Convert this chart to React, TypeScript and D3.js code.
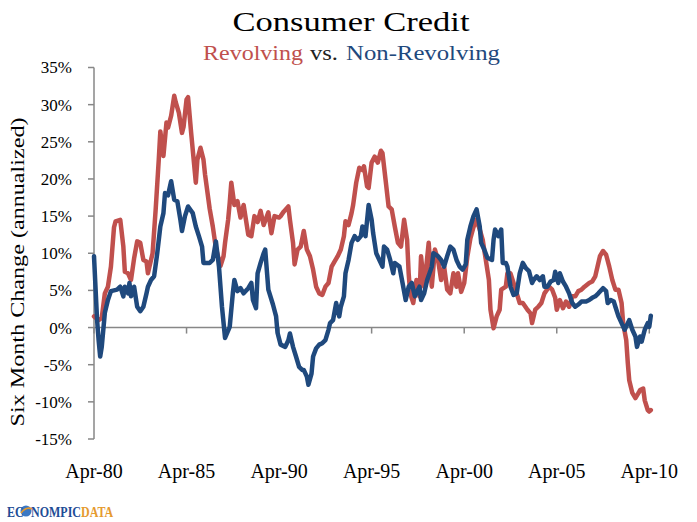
import React from "react";
import * as d3 from "d3";

// months counted from Apr-80, value = six month change (annualized, %)
const revMonths = [
  0, 3, 5, 7, 9, 11, 13, 14, 17, 19, 20, 22, 24, 26, 28, 30, 32, 34, 35, 38,
  40, 42, 43, 45, 47, 48, 50, 52, 53, 55, 57, 58, 60, 61, 63, 65, 66, 67, 69, 71,
  72, 75, 77, 79, 82, 84, 85, 87, 88, 89, 91, 93, 95, 97, 100, 102, 104, 106, 108, 110,
  113, 115, 117, 120, 121, 123, 126, 127, 129, 130, 132, 134, 136, 138, 140, 142, 144, 146, 148, 150,
  152, 154, 156, 158, 160, 162, 163, 165, 167, 168, 170, 172, 174, 175, 177, 178, 180, 182, 184, 186,
  187, 189, 191, 193, 195, 197, 199, 201, 203, 204, 205, 207, 209, 211, 212, 214, 215, 217, 219, 221,
  223, 225, 227, 229, 231, 233, 235, 236, 238, 240, 242, 244, 246, 248, 250, 252, 254, 256, 257, 259,
  261, 263, 264, 267, 268, 270, 272, 274, 276, 278, 281, 283, 284, 286, 288, 290, 292, 295, 297, 299,
  300, 302, 304, 306, 308, 310, 312, 314, 316, 318, 321, 323, 325, 327, 328, 330, 332, 334, 336, 338,
  340, 342, 343, 345, 346, 347, 349, 351, 353, 354, 356, 357, 359, 360, 361,
];
const revValues = [
  1.5, 1.0, 1.3, 4.6, 5.5, 8.2, 13.5, 14.3, 14.5, 10.9, 7.5, 7.3, 6.4, 9.3, 11.6, 11.4, 9.1, 8.9, 7.3, 10.0,
  15.9, 22.6, 26.4, 23.1, 27.6, 26.9, 28.5, 31.2, 30.3, 28.9, 26.2, 27.0, 30.7, 31.0, 26.2, 21.7, 19.5, 22.6, 24.2, 22.6,
  20.6, 16.0, 13.6, 10.7, 8.3, 9.6, 11.4, 14.5, 16.8, 19.5, 16.5, 17.0, 14.8, 16.5, 12.5, 12.3, 15.0, 14.2, 15.7, 13.8,
  15.5, 12.7, 15.0, 14.8, 15.0, 15.6, 16.3, 14.5, 11.4, 8.5, 10.5, 10.9, 13.0, 10.5, 9.6, 7.8, 5.5, 4.6, 4.4, 5.5,
  6.0, 8.2, 8.9, 9.6, 10.5, 12.3, 14.3, 13.8, 15.4, 16.5, 19.5, 21.5, 21.2, 21.7, 19.0, 18.8, 22.2, 23.0, 22.2, 23.8,
  23.5, 19.9, 16.3, 15.9, 13.6, 11.4, 10.9, 14.5, 11.8, 7.3, 4.6, 3.3, 6.4, 4.2, 9.6, 5.5, 7.3, 11.4, 5.5, 10.5,
  9.1, 6.4, 8.2, 5.1, 4.6, 7.3, 5.5, 7.3, 4.8, 6.0, 9.5, 12.0, 13.5, 14.5, 13.2, 11.8, 9.1, 6.4, 2.4, -0.1,
  1.5, 2.4, 5.1, 5.5, 7.3, 7.3, 6.0, 4.6, 3.3, 3.3, 2.4, 1.9, 0.6, 2.4, 2.8, 3.3, 4.6, 5.5, 5.1, 4.0,
  2.4, 3.7, 2.6, 3.5, 2.8, 4.2, 4.2, 4.9, 5.1, 5.5, 6.0, 6.2, 6.9, 8.7, 9.6, 10.3, 9.8, 8.2, 6.4, 5.1,
  5.1, 3.3, 0.6, -1.7, -4.8, -7.1, -8.8, -9.5, -8.8, -8.4, -8.2, -9.8, -11.1, -11.3, -11.1,
];

const nonRevMonths = [
  0, 2, 3, 4, 5, 7, 9, 11, 15, 17, 19, 20, 22, 23, 24, 26, 28, 30, 32, 34,
  35, 37, 39, 41, 43, 45, 46, 48, 50, 52, 54, 56, 57, 59, 61, 64, 66, 68, 70, 71,
  75, 77, 79, 81, 83, 85, 88, 90, 91, 93, 95, 97, 100, 102, 103, 105, 106, 108, 110, 111,
  113, 116, 118, 119, 121, 124, 126, 127, 129, 131, 133, 135, 136, 138, 139, 141, 142, 144, 146, 148,
  150, 152, 153, 155, 157, 159, 160, 162, 163, 165, 167, 169, 171, 173, 174, 176, 178, 180, 181, 183,
  185, 187, 188, 190, 192, 194, 195, 198, 200, 202, 204, 206, 208, 211, 212, 214, 216, 219, 220, 223,
  225, 227, 229, 231, 233, 235, 237, 239, 241, 242, 244, 246, 248, 250, 251, 253, 255, 258, 259, 260,
  262, 264, 265, 267, 268, 270, 272, 274, 276, 278, 280, 282, 284, 285, 287, 289, 291, 292, 294, 296,
  298, 299, 301, 302, 304, 306, 308, 310, 312, 314, 316, 319, 321, 323, 325, 327, 330, 332, 333, 335,
  337, 338, 340, 342, 344, 346, 347, 349, 351, 352, 354, 355, 357, 359, 360, 361,
];
const nonRevValues = [
  9.6, 1.0, -1.7, -3.9, -2.6, 2.0, 3.7, 4.9, 5.1, 5.5, 4.2, 5.5, 4.6, 6.0, 4.2, 5.5, 2.8, 2.2, 2.8, 4.6,
  5.5, 6.4, 6.9, 10.0, 13.6, 15.4, 18.1, 17.8, 19.7, 17.2, 17.0, 14.5, 13.0, 15.0, 16.3, 15.4, 13.6, 12.3, 10.9, 8.7,
  8.7, 9.1, 11.6, 8.2, 2.8, -1.4, 0.1, 4.6, 6.4, 4.9, 5.3, 4.6, 5.3, 6.0, 3.7, 2.6, 7.3, 8.7, 10.0, 10.5,
  5.1, 3.1, 1.5, -0.7, -2.3, -2.6, -1.7, -0.8, -2.6, -3.9, -5.3, -5.7, -5.7, -6.6, -7.7, -6.2, -3.9, -2.8, -2.3, -2.1,
  -1.7, -0.3, 0.6, 1.0, 3.3, 1.5, 2.8, 4.2, 7.3, 9.1, 11.4, 12.3, 11.8, 12.3, 13.6, 12.3, 16.5, 14.5, 12.7, 10.0,
  9.1, 8.2, 10.9, 10.5, 9.1, 7.3, 8.7, 8.2, 6.0, 3.7, 5.5, 6.0, 4.2, 5.5, 3.7, 4.6, 6.4, 8.2, 10.0, 9.6,
  9.1, 8.2, 9.6, 10.9, 10.5, 9.1, 8.2, 7.8, 8.5, 11.8, 13.6, 15.0, 15.9, 13.6, 11.4, 10.5, 9.4, 9.1, 11.8, 13.2,
  12.3, 13.2, 8.7, 8.7, 8.2, 5.5, 4.4, 4.6, 7.3, 8.7, 8.0, 7.6, 6.0, 6.4, 6.9, 6.4, 6.9, 5.5, 5.5, 6.2,
  6.4, 7.5, 6.0, 7.3, 6.2, 5.5, 4.6, 3.3, 2.8, 3.1, 3.5, 3.5, 3.7, 4.0, 4.2, 4.6, 5.3, 4.9, 3.3, 3.7,
  3.5, 2.8, 1.5, 0.6, -0.3, 0.6, 1.0, -0.3, -1.2, -2.6, -1.2, -1.9, -0.3, 0.6, 0.1, 1.6,
];

const yTicks = [-15, -10, -5, 0, 5, 10, 15, 20, 25, 30, 35];
const xTickYears = [1980, 1985, 1990, 1995, 2000, 2005, 2010];
const xTickLabels = ["Apr-80", "Apr-85", "Apr-90", "Apr-95", "Apr-00", "Apr-05", "Apr-10"];

const W = 697;
const H = 522;
const FONT = "'Liberation Serif', 'Times New Roman', serif";
const RED = "#C0504D";
const BLUE = "#1F497D";
const AXIS = "#878787";

const start = new Date(1980, 3, 1);
const toDate = (m: number) => d3.timeMonth.offset(start, m);

export default function App() {
  const x = d3
    .scaleTime()
    .domain([start, new Date(2010, 3, 1)])
    .range([94, 649.3]);
  const y = d3.scaleLinear().domain([-15, 35]).range([439, 67.5]);

  const line = d3
    .line<[number, number]>()
    .x((d) => x(toDate(d[0])))
    .y((d) => y(d[1]))
    .curve(d3.curveLinear);

  const revPts = revMonths.map((m, i) => [m, revValues[i]] as [number, number]);
  const nonRevPts = nonRevMonths.map((m, i) => [m, nonRevValues[i]] as [number, number]);
  const lastDate = toDate(Math.max(revMonths[revMonths.length - 1], nonRevMonths[nonRevMonths.length - 1]));

  return (
    <svg
      width={W}
      height={H}
      style={{ position: "absolute", left: 0, top: 0, background: "#fff" }}
      fontFamily={FONT}
    >
      <rect width={W} height={H} fill="#fff" />

      {/* titles */}
      <text x={351} y={31} textAnchor="middle" fontSize={28} textLength={237} lengthAdjust="spacingAndGlyphs">
        Consumer Credit
      </text>
      <text x={203} y={60} fontSize={21} fill={RED} textLength={100} lengthAdjust="spacingAndGlyphs">
        Revolving
      </text>
      <text x={310} y={60} fontSize={21} fill="#222" textLength={28} lengthAdjust="spacingAndGlyphs">
        vs.
      </text>
      <text x={346} y={60} fontSize={21} fill={BLUE} textLength={154} lengthAdjust="spacingAndGlyphs">
        Non-Revolving
      </text>

      {/* y axis label */}
      <text
        transform="translate(24,272) rotate(-90)"
        textAnchor="middle"
        fontSize={19}
        textLength={309}
        lengthAdjust="spacingAndGlyphs"
      >
        Six Month Change (annualized)
      </text>

      {/* y axis */}
      <line x1={94} x2={94} y1={y(35)} y2={y(-15)} stroke={AXIS} strokeWidth={1.5} />
      {yTicks.map((t) => (
        <g key={t}>
          <line x1={88} x2={94} y1={y(t)} y2={y(t)} stroke={AXIS} strokeWidth={1.5} />
          <text x={72} y={y(t)} dy="0.35em" textAnchor="end" fontSize={17}>
            {t}%
          </text>
        </g>
      ))}

      {/* x axis at zero */}
      <line x1={94} x2={x(lastDate)} y1={y(0)} y2={y(0)} stroke={AXIS} strokeWidth={1.5} />
      {xTickYears.map((yr, i) => {
        const px = x(new Date(yr, 3, 1));
        return (
          <g key={yr}>
            <line x1={px} x2={px} y1={y(0)} y2={y(0) + 6} stroke={AXIS} strokeWidth={1.5} />
            <text x={px} y={478} textAnchor="middle" fontSize={20}>
              {xTickLabels[i]}
            </text>
          </g>
        );
      })}

      {/* series */}
      <path d={line(revPts) ?? ""} fill="none" stroke={RED} strokeWidth={4.5} strokeLinejoin="round" strokeLinecap="round" />
      <path d={line(nonRevPts) ?? ""} fill="none" stroke={BLUE} strokeWidth={4.5} strokeLinejoin="round" strokeLinecap="round" />

      {/* logo */}
      <circle cx={26} cy={511} r={5.5} fill="#3B78C4" />
      <path d="M21,513 Q26,506 32,509" fill="none" stroke="#E59A2F" strokeWidth={1.6} />
      <g transform="translate(7,517) scale(0.8,1)">
        <text x={0} y={0} fontFamily="'Liberation Serif', serif" fontWeight="bold" fontSize={15}>
          <tspan fill="#1E4D96">EC</tspan>
          <tspan fill="#1E4D96" dx={9.2}>NOMPIC</tspan>
          <tspan fill="#E59A2F">DATA</tspan>
        </text>
      </g>
    </svg>
  );
}
